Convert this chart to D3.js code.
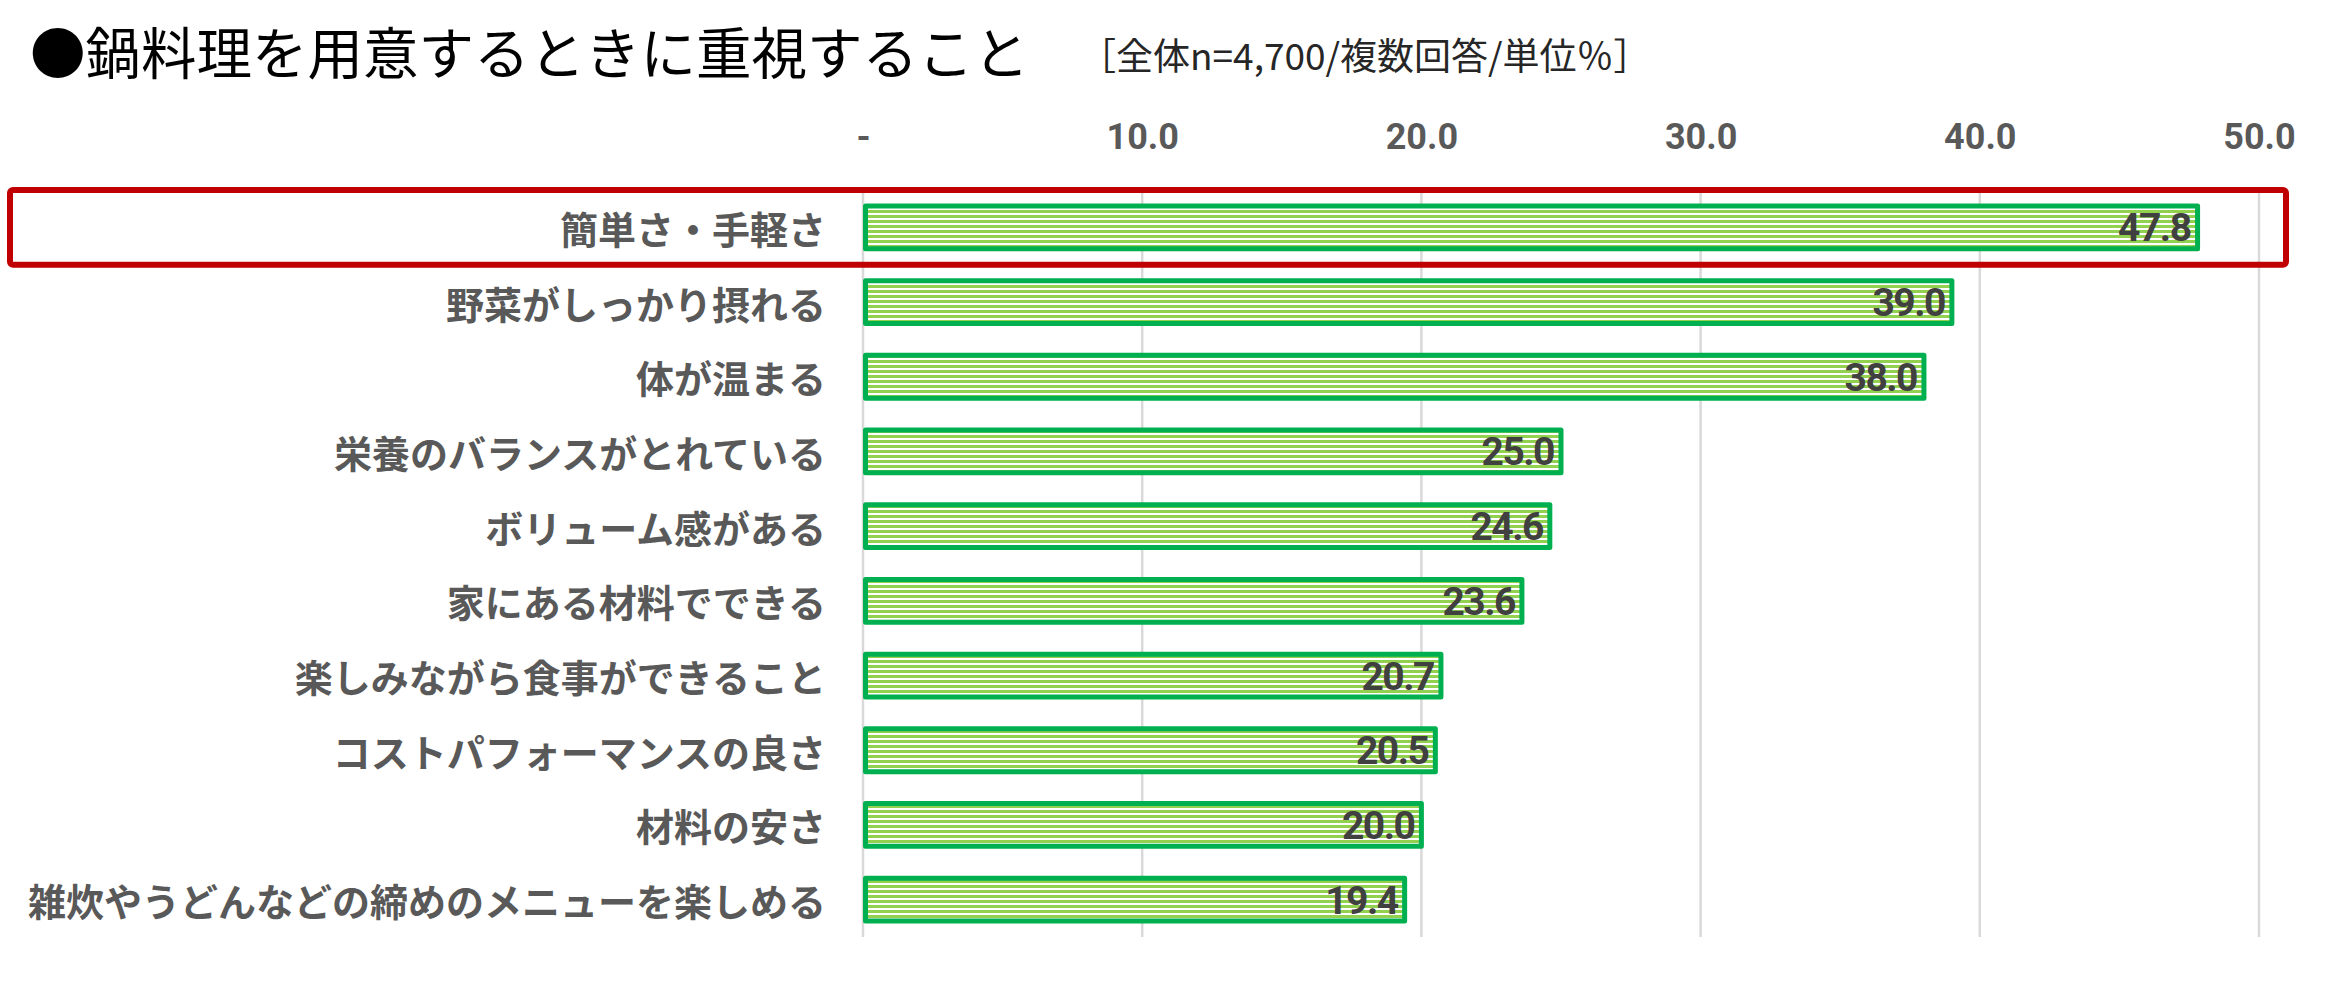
<!DOCTYPE html>
<html><head><meta charset="utf-8">
<script src="https://cdn.jsdelivr.net/npm/d3@7"></script>
<style>html,body{margin:0;padding:0;background:#fff;}svg{display:block;}</style>
</head><body>
<svg id="chart" width="2344" height="984"></svg>
<script>
const title = "●鍋料理を用意するときに重視すること";
const subtitle = "［全体n=4,700/複数回答/単位％］";
const categories = [
  "簡単さ・手軽さ",
  "野菜がしっかり摂れる",
  "体が温まる",
  "栄養のバランスがとれている",
  "ボリューム感がある",
  "家にある材料でできる",
  "楽しみながら食事ができること",
  "コストパフォーマンスの良さ",
  "材料の安さ",
  "雑炊やうどんなどの締めのメニューを楽しめる"
];
const values = [47.8, 39.0, 38.0, 25.0, 24.6, 23.6, 20.7, 20.5, 20.0, 19.4];
const tickValues = [0, 10, 20, 30, 40, 50];
const tickLabels = ["-", "10.0", "20.0", "30.0", "40.0", "50.0"];
const highlighted = ["簡単さ・手軽さ"];

const svg = d3.select("#chart");
const plot = {left: 863, right: 2259, top: 190, bottom: 937};

const x = d3.scaleLinear().domain([0, 50]).range([plot.left, plot.right]);
const y = d3.scaleBand().domain(categories).range([plot.top, plot.bottom])
  .paddingInner(0.36).paddingOuter(0.18);

// pattern
const defs = svg.append("defs");
const pat = defs.append("pattern").attr("id", "stripes")
  .attr("patternUnits", "userSpaceOnUse").attr("width", 8).attr("height", 5);
pat.append("rect").attr("width", 8).attr("height", 5).attr("fill", "#ffffff");
pat.append("rect").attr("width", 8).attr("height", 3).attr("fill", "#92D050");

// title
svg.append("text").attr("x", 30).attr("y", 50)
  .attr("dominant-baseline", "central")
  .attr("font-family", "'Noto Sans CJK JP', sans-serif")
  .attr("font-size", 55.5).attr("fill", "#000").text(title);
svg.append("text").attr("x", 1079).attr("y", 54)
  .attr("dominant-baseline", "central")
  .attr("font-family", "'Noto Sans CJK JP', sans-serif")
  .attr("font-size", 37).attr("fill", "#262626").text(subtitle);

// gridlines
const grid = svg.append("g");
grid.selectAll("line").data(tickValues).join("line")
  .attr("x1", d => x(d)).attr("x2", d => x(d))
  .attr("y1", plot.top).attr("y2", plot.bottom)
  .attr("stroke", "#D9D9D9").attr("stroke-width", 2.5);

// top axis
const axis = d3.axisTop(x).tickValues(tickValues)
  .tickFormat((d, i) => tickLabels[i]).tickSize(0).tickPadding(0);
const ag = svg.append("g").attr("transform", "translate(0,137)").call(axis);
ag.select(".domain").remove();
ag.selectAll("text")
  .attr("dominant-baseline", "central").attr("dy", null)
  .attr("font-family", "Roboto, 'Noto Sans', sans-serif")
  .attr("font-size", 36).attr("font-weight", "bold").attr("fill", "#595959");

// category labels
const yAxis = d3.axisLeft(y).tickSize(0).tickPadding(0);
const yg = svg.append("g").attr("transform", "translate(826,0)").call(yAxis);
yg.select(".domain").remove();
yg.selectAll("text")
  .attr("dominant-baseline", "central").attr("dy", null)
  .attr("font-family", "'Noto Sans CJK JP', sans-serif")
  .attr("font-size", 38).attr("font-weight", "bold").attr("fill", "#595959");

// bars
const sw = 5;
svg.append("g").selectAll("rect").data(values).join("rect")
  .attr("x", x(0) + sw / 2)
  .attr("y", (d, i) => y(categories[i]) + sw / 2)
  .attr("width", d => x(d) - x(0) - sw / 2)
  .attr("height", y.bandwidth() - sw)
  .attr("fill", "url(#stripes)")
  .attr("stroke", "#00B050").attr("stroke-width", sw)
  .attr("stroke-linejoin", "round");

// data labels
svg.append("g").selectAll("text").data(values).join("text")
  .attr("x", d => x(d) - 7)
  .attr("y", (d, i) => y(categories[i]) + y.bandwidth() / 2 + 1)
  .attr("text-anchor", "end").attr("dominant-baseline", "central")
  .attr("font-family", "Roboto, 'Noto Sans', sans-serif")
  .attr("font-size", 39).attr("font-weight", "bold").attr("fill", "#404040")
  .attr("letter-spacing", -1.5)
  .text(d => d.toFixed(1));

// highlight box
const step = y.step();
svg.append("g").selectAll("rect").data(highlighted).join("rect")
  .attr("x", 10).attr("width", 2286 - 10)
  .attr("y", d => y(d) - (step - y.bandwidth()) / 2)
  .attr("height", step)
  .attr("rx", 3)
  .attr("fill", "none").attr("stroke", "#C00000").attr("stroke-width", 6);
</script>
</body></html>
